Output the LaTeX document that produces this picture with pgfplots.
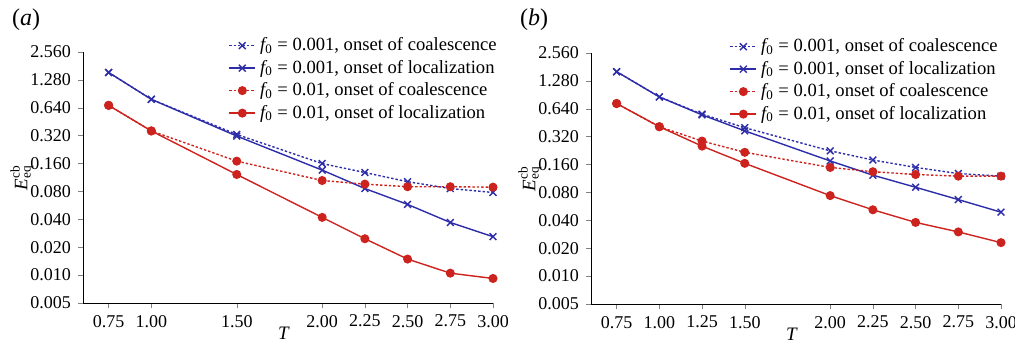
\documentclass[border=0pt]{standalone}
\usepackage{fontspec}
\setmainfont{Liberation Serif}
\usepackage{pgfplots}
\pgfplotsset{compat=1.18}
\definecolor{cblue}{RGB}{45,45,170}
\definecolor{cred}{RGB}{205,35,30}
\pgfplotsset{
  bdash/.style={cblue, dash pattern=on 1.2pt off 1pt, mark=x, mark size=2.4pt, mark options={solid}, line width=0.7pt},
  bsol/.style={cblue, solid, mark=x, mark size=2.4pt, line width=0.7pt},
  rdash/.style={cred, dash pattern=on 1.2pt off 1pt, mark=*, mark size=1.9pt, mark options={solid}, line width=0.7pt},
  rsol/.style={cred, solid, mark=*, mark size=1.9pt, line width=0.7pt},
}
\begin{document}
\begin{tikzpicture}
\useasboundingbox (0,0) rectangle (507.5pt,172pt);
\node[anchor=west, font=\fontsize{12}{13}\selectfont] at (2.5pt,162pt) {(\textit{a})};
\node[anchor=west, font=\fontsize{12}{13}\selectfont] at (256.5pt,162pt) {(\textit{b})};
\begin{axis}[at={(41.5pt,20.5pt)}, anchor=south west,
    scale only axis, width=205pt, height=125.5pt,
    axis lines*=left, tick align=outside,
    major tick length=2.5pt,
    xmin=0.6, xmax=3.0,
    ymode=log, log basis y=2, ymin=0.005, ymax=2.56,
    ytick={0.005,0.01,0.02,0.04,0.08,0.16,0.32,0.64,1.28,2.56},
    yticklabels={0.005,0.010,0.020,0.040,0.080,0.160,0.320,0.640,1.280,2.560},
    tick label style={font=\fontsize{9}{10}\selectfont},
    xlabel={\textit{T}}, ylabel={$\mathit{E}^{\mathrm{cb}}_{\mathrm{eq}}$},
    label style={font=\fontsize{9.5}{10}\selectfont},
    xlabel style={at={(axis description cs:0.49,-0.12)}, anchor=center},
    ylabel style={at={(axis description cs:-0.149,0.5)}, anchor=center},
    legend style={draw=none, fill=none, font=\fontsize{9.3}{10}\selectfont,
      anchor=north west, row sep=-0.8pt, inner sep=0pt, at={(axis description cs:0.354,1.075)}},
    legend image code/.code={\draw[mark repeat=2,mark phase=2,#1] plot coordinates {(0cm,0cm) (0.23cm,0cm) (0.46cm,0cm)};},
    legend cell align=left,
  xtick={0.75,1.0,1.5,2.0,2.25,2.5,2.75,3.0},
  xticklabels={0.75,1.00,1.50,2.00,2.25,2.50,2.75,3.00}]
\addplot[bdash] coordinates {(0.75,1.54) (1.0,0.79) (1.5,0.33) (2.0,0.16) (2.25,0.128) (2.5,0.102) (2.75,0.086) (3.0,0.078)};
\addlegendentry{$\mathit{f}_{\mathrm{0}}$ = 0.001, onset of coalescence}
\addplot[bsol] coordinates {(0.75,1.54) (1.0,0.79) (1.5,0.317) (2.0,0.136) (2.25,0.086) (2.5,0.058) (2.75,0.037) (3.0,0.026)};
\addlegendentry{$\mathit{f}_{\mathrm{0}}$ = 0.001, onset of localization}
\addplot[rdash] coordinates {(0.75,0.68) (1.0,0.36) (1.5,0.17) (2.0,0.105) (2.25,0.096) (2.5,0.090) (2.75,0.090) (3.0,0.089)};
\addlegendentry{$\mathit{f}_{\mathrm{0}}$ = 0.01, onset of coalescence}
\addplot[rsol] coordinates {(0.75,0.68) (1.0,0.36) (1.5,0.122) (2.0,0.042) (2.25,0.0247) (2.5,0.0149) (2.75,0.0105) (3.0,0.0092)};
\addlegendentry{$\mathit{f}_{\mathrm{0}}$ = 0.01, onset of localization}
\end{axis}
\begin{axis}[at={(295.5pt,20pt)}, anchor=south west,
    scale only axis, width=205pt, height=125.5pt,
    axis lines*=left, tick align=outside,
    major tick length=2.5pt,
    xmin=0.6, xmax=3.0,
    ymode=log, log basis y=2, ymin=0.005, ymax=2.56,
    ytick={0.005,0.01,0.02,0.04,0.08,0.16,0.32,0.64,1.28,2.56},
    yticklabels={0.005,0.010,0.020,0.040,0.080,0.160,0.320,0.640,1.280,2.560},
    tick label style={font=\fontsize{9}{10}\selectfont},
    xlabel={\textit{T}}, ylabel={$\mathit{E}^{\mathrm{cb}}_{\mathrm{eq}}$},
    label style={font=\fontsize{9.5}{10}\selectfont},
    xlabel style={at={(axis description cs:0.49,-0.12)}, anchor=center},
    ylabel style={at={(axis description cs:-0.149,0.5)}, anchor=center},
    legend style={draw=none, fill=none, font=\fontsize{9.3}{10}\selectfont,
      anchor=north west, row sep=-0.8pt, inner sep=0pt, at={(axis description cs:0.337,1.075)}},
    legend image code/.code={\draw[mark repeat=2,mark phase=2,#1] plot coordinates {(0cm,0cm) (0.23cm,0cm) (0.46cm,0cm)};},
    legend cell align=left,
  xtick={0.75,1.0,1.25,1.5,2.0,2.25,2.5,2.75,3.0},
  xticklabels={0.75,1.00,1.25,1.50,2.00,2.25,2.50,2.75,3.00}]
\addplot[bdash] coordinates {(0.75,1.61) (1.0,0.86) (1.25,0.56) (1.5,0.40) (2.0,0.225) (2.25,0.179) (2.5,0.149) (2.75,0.128) (3.0,0.12)};
\addlegendentry{$\mathit{f}_{\mathrm{0}}$ = 0.001, onset of coalescence}
\addplot[bsol] coordinates {(0.75,1.61) (1.0,0.86) (1.25,0.55) (1.5,0.37) (2.0,0.175) (2.25,0.123) (2.5,0.091) (2.75,0.067) (3.0,0.049)};
\addlegendentry{$\mathit{f}_{\mathrm{0}}$ = 0.001, onset of localization}
\addplot[rdash] coordinates {(0.75,0.73) (1.0,0.41) (1.25,0.287) (1.5,0.217) (2.0,0.149) (2.25,0.134) (2.5,0.125) (2.75,0.12) (3.0,0.12)};
\addlegendentry{$\mathit{f}_{\mathrm{0}}$ = 0.01, onset of coalescence}
\addplot[rsol] coordinates {(0.75,0.73) (1.0,0.41) (1.25,0.253) (1.5,0.165) (2.0,0.074) (2.25,0.052) (2.5,0.038) (2.75,0.030) (3.0,0.023)};
\addlegendentry{$\mathit{f}_{\mathrm{0}}$ = 0.01, onset of localization}
\end{axis}
\end{tikzpicture}
\end{document}
